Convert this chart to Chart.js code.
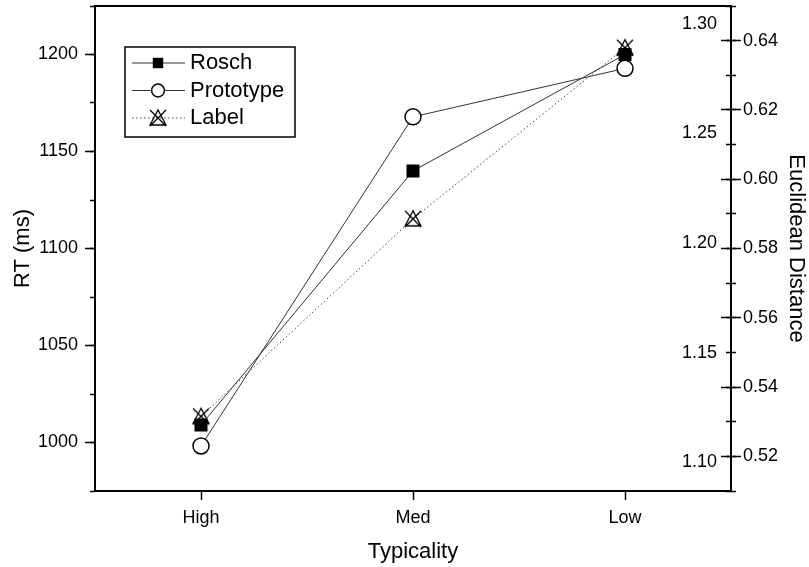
<!DOCTYPE html>
<html>
<head>
<meta charset="utf-8">
<script src="https://cdn.jsdelivr.net/npm/chart.js@4"></script>
<style>
    html, body { margin: 0; padding: 0; background: #fff; }
    canvas { display: block; }
</style>
</head>
<body>
<canvas id="typicalityChart" width="809" height="567" style="width:809px;height:567px"></canvas>
<script>
// data
const categories = ['High', 'Med', 'Low'];
const roschRT = [1009, 1140, 1200];          // left axis, RT (ms)
const prototypeDist = [0.523, 0.618, 0.632]; // outer right axis
const labelDist = [1.121, 1.211, 1.289];     // inner right axis

const rtRange = [975, 1225];
const outerRange = [0.51, 0.65];
const innerRange = [1.087, 1.308];

const rtTicks = [1000, 1050, 1100, 1150, 1200];
const outerTicks = [0.52, 0.54, 0.56, 0.58, 0.60, 0.62, 0.64];
const innerTicks = [1.10, 1.15, 1.20, 1.25, 1.30];

const FONT = '"Liberation Sans", Arial, Helvetica, sans-serif';
Chart.defaults.font.family = FONT;
Chart.defaults.color = '#000';

// X with a triangle, used for "Label"
const labelMark = document.createElement('canvas');
labelMark.width = 22;
labelMark.height = 22;
(() => {
    const c = labelMark.getContext('2d');
    c.strokeStyle = '#000';
    c.lineWidth = 1.3;
    c.beginPath();
    c.moveTo(11, 3); c.lineTo(3, 18); c.lineTo(19, 18); c.closePath();
    c.moveTo(3, 3); c.lineTo(19, 19);
    c.moveTo(19, 3); c.lineTo(3, 19);
    c.stroke();
})();

// fixed box sizes for the axes
const fixSize = (w, h) => scale => {
    if (w !== null) scale.width = w;
    if (h !== null) scale.height = h;
    scale.paddingTop = 0;
    scale.paddingBottom = 0;
    scale.paddingLeft = 0;
    scale.paddingRight = 0;
};

const useTicks = list => scale => {
    scale.ticks = list.map(v => ({ value: v }));
};

const tickGrid = len => ({
    drawOnChartArea: false,
    tickLength: len,
    tickColor: '#000',
    tickWidth: 1.5
});

// plain tick-mark-only axis
const tickAxis = (pos, range, step, len, list) => ({
    position: pos,
    weight: 0,
    min: range[0],
    max: range[1],
    ticks: { stepSize: step, display: false },
    grid: tickGrid(len),
    border: { display: false },
    afterBuildTicks: list ? useTicks(list) : undefined,
    afterFit: fixSize(0, null)
});

const legendBox = {
    id: 'legendBox',
    afterDraw(chart) {
        const ctx = chart.ctx;
        ctx.save();
        ctx.strokeStyle = '#000';
        ctx.lineWidth = 1.5;
        ctx.strokeRect(125, 47, 170, 90);
        chart.data.datasets.forEach((ds, i) => {
            const y = 63 + i * 27.5;
            ctx.beginPath();
            ctx.setLineDash(ds.borderDash || []);
            ctx.strokeStyle = ds.borderColor;
            ctx.lineWidth = ds.borderWidth;
            ctx.moveTo(132, y);
            ctx.lineTo(185, y);
            ctx.stroke();
            ctx.setLineDash([]);
            ctx.fillStyle = ds.pointBackgroundColor;
            ctx.strokeStyle = ds.pointBorderColor;
            ctx.lineWidth = ds.pointBorderWidth;
            Chart.helpers.drawPoint(ctx, {
                pointStyle: ds.pointStyle,
                radius: ds.pointRadius * 0.8,
                borderWidth: ds.pointBorderWidth,
                rotation: 0
            }, 158, y);
            ctx.fillStyle = '#000';
            ctx.font = '22px ' + FONT;
            ctx.textBaseline = 'middle';
            ctx.textAlign = 'left';
            ctx.fillText(ds.label, 190, y);
        });
        ctx.restore();
    }
};

new Chart(document.getElementById('typicalityChart'), {
    type: 'line',
    data: {
        labels: categories,
        datasets: [
            {
                label: 'Rosch',
                data: roschRT,
                yAxisID: 'y',
                borderColor: '#333',
                borderWidth: 1,
                pointStyle: 'rect',
                pointRadius: 9.2,
                pointHoverRadius: 9.2,
                pointBackgroundColor: '#000',
                pointBorderColor: '#000',
                pointBorderWidth: 0
            },
            {
                label: 'Prototype',
                data: prototypeDist,
                yAxisID: 'yOut',
                borderColor: '#333',
                borderWidth: 1,
                pointStyle: 'circle',
                pointRadius: 8,
                pointHoverRadius: 8,
                pointBackgroundColor: '#fff',
                pointBorderColor: '#000',
                pointBorderWidth: 1.5
            },
            {
                label: 'Label',
                data: labelDist,
                yAxisID: 'yIn',
                borderColor: '#444',
                borderWidth: 1,
                borderDash: [1.5, 2.5],
                pointStyle: labelMark,
                pointRadius: 10,
                pointHoverRadius: 10,
                pointBackgroundColor: 'rgba(0,0,0,0)',
                pointBorderColor: '#000',
                pointBorderWidth: 1
            }
        ]
    },
    options: {
        responsive: false,
        devicePixelRatio: 1,
        animation: false,
        layout: { padding: 0, autoPadding: false },
        plugins: {
            legend: { display: false },
            tooltip: { enabled: false }
        },
        scales: {
            x: {
                type: 'category',
                offset: true,
                grid: tickGrid(9),
                border: { color: '#000', width: 2 },
                ticks: { font: { size: 18 }, padding: 7, color: '#000' },
                title: {
                    display: true,
                    text: 'Typicality',
                    font: { size: 22 },
                    color: '#000',
                    padding: { top: 0, bottom: 2 }
                },
                afterFit: fixSize(null, 76)
            },
            xTop: {
                type: 'category',
                position: 'top',
                offset: true,
                grid: { display: false },
                ticks: { display: false },
                border: { display: true, color: '#000', width: 2 },
                afterFit: fixSize(null, 6)
            },
            y: {
                position: 'left',
                weight: 1,
                min: rtRange[0],
                max: rtRange[1],
                ticks: { font: { size: 18 }, padding: 7, color: '#000', callback: v => String(v) },
                grid: tickGrid(10),
                border: { color: '#000', width: 2 },
                title: {
                    display: true,
                    text: 'RT (ms)',
                    font: { size: 22 },
                    color: '#000',
                    padding: { top: 10, bottom: 0 }
                },
                afterBuildTicks: useTicks(rtTicks),
                afterFit: fixSize(95, null)
            },
            yMinor: tickAxis('left', rtRange, 25, 5),
            yOut: {
                position: 'right',
                weight: 1,
                min: outerRange[0],
                max: outerRange[1],
                ticks: {
                    font: { size: 18 },
                    padding: 2,
                    color: '#000',
                    callback: v => v.toFixed(2)
                },
                grid: tickGrid(10),
                border: { color: '#000', width: 2 },
                title: {
                    display: true,
                    text: 'Euclidean Distance',
                    font: { size: 22 },
                    color: '#000',
                    padding: { top: 0, bottom: 0 }
                },
                afterBuildTicks: useTicks(outerTicks),
                afterFit: fixSize(78, null)
            },
            yOutIn: tickAxis('right', outerRange, 0.02, -10, outerTicks),
            yOutMinor: tickAxis('right', outerRange, 0.01, 5),
            yOutMinorIn: tickAxis('right', outerRange, 0.01, -5),
            yIn: {
                position: 'right',
                weight: 0,
                min: innerRange[0],
                max: innerRange[1],
                ticks: {
                    mirror: true,
                    padding: -14,
                    font: { size: 18 },
                    color: '#000',
                    callback: v => v.toFixed(2)
                },
                grid: { display: false },
                border: { display: false },
                afterBuildTicks: useTicks(innerTicks),
                afterFit: fixSize(0, null)
            }
        }
    },
    plugins: [legendBox]
});
</script>
</body>
</html>
